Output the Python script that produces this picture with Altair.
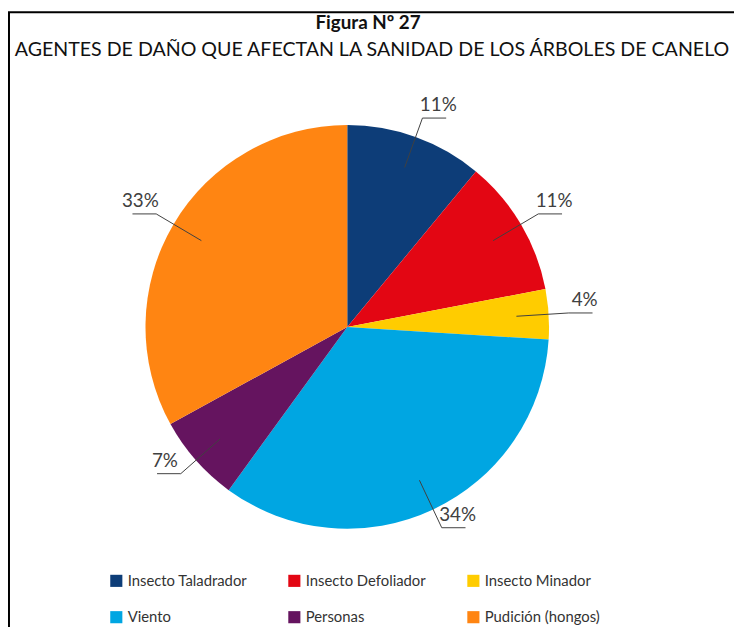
import altair as alt
import pandas as pd
import numpy as np

# ---- data ----
categories = ["Insecto Taladrador", "Insecto Defoliador", "Insecto Minador",
              "Viento", "Personas", "Pudición (hongos)"]
values = [11, 11, 4, 34, 7, 33]
colors = ["#0d3d78", "#e30613", "#ffcc00", "#00a6e2", "#65145f", "#ff8512"]
title_text = "Figura Nº 27"
subtitle_text = "AGENTES DE DAÑO QUE AFECTAN LA SANIDAD DE LOS ÁRBOLES DE CANELO"

# ---- layout ----
W, H = 734, 619
R = 204.0
CX, CY = 343.0, 319.0
FONT = "Lato"
TXT = "#404040"

xscale = alt.Scale(domain=[-CX / R, (W - CX) / R], nice=False, zero=False)
yscale = alt.Scale(domain=[-(H - CY) / R, CY / R], nice=False, zero=False)

pie_df = pd.DataFrame({"category": categories, "value": values,
                       "idx": list(range(len(values)))})
pie_df["x0"] = 0.0
pie_df["y0"] = 0.0

total = float(sum(values))
cum = np.cumsum([0.0] + values[:-1])
mid = (cum + np.array(values) / 2.0) / total * 2 * np.pi

rows = []
lab = []
for c, v, a in zip(categories, values, mid):
    s = 1.0 if np.sin(a) >= 0 else -1.0
    r1, r2 = 0.84, 1.10
    ax, ay = r1 * np.sin(a), r1 * np.cos(a)
    bx, by = r2 * np.sin(a), r2 * np.cos(a)
    cx, cy = bx + s * 24 / R, by
    rows += [dict(category=c, pt=0, x=ax, y=ay),
             dict(category=c, pt=1, x=bx, y=by),
             dict(category=c, pt=2, x=cx, y=cy)]
    lab.append(dict(category=c, label=f"{v}%", x=bx + s * 16 / R, y=by + 3 / R))
lines_df = pd.DataFrame(rows)
lab_df = pd.DataFrame(lab)

legend = alt.Legend(orient="none", legendX=102, legendY=568, direction="horizontal",
                    columns=3, title=None, symbolType="square", symbolSize=150,
                    symbolStrokeWidth=0, labelFont=FONT, labelFontSize=15,
                    labelColor="#333333", labelOffset=4, rowPadding=21,
                    columnPadding=40, padding=0)

pie = alt.Chart(pie_df).mark_arc(outerRadius=R).encode(
    x=alt.X("x0:Q", scale=xscale, axis=None),
    y=alt.Y("y0:Q", scale=yscale, axis=None),
    theta=alt.Theta("value:Q", stack=True),
    color=alt.Color("category:N", scale=alt.Scale(domain=categories, range=colors),
                    sort=categories, legend=legend),
    order=alt.Order("idx:Q"),
)

leaders = alt.Chart(lines_df).mark_line(color="#404040", strokeWidth=1).encode(
    x=alt.X("x:Q", scale=xscale, axis=None),
    y=alt.Y("y:Q", scale=yscale, axis=None),
    detail="category:N",
    order="pt:Q",
)

labels = alt.Chart(lab_df).mark_text(font=FONT, fontSize=19, color=TXT,
                                     baseline="bottom", align="center").encode(
    x=alt.X("x:Q", scale=xscale, axis=None),
    y=alt.Y("y:Q", scale=yscale, axis=None),
    text="label:N",
)

tdf = pd.DataFrame({"t": [title_text], "s": [subtitle_text]})
title = alt.Chart(tdf).mark_text(font=FONT, fontSize=19, fontWeight="bold",
                                 color="#111111", baseline="middle").encode(
    text="t:N", x=alt.value(364), y=alt.value(12))
subtitle = alt.Chart(tdf).mark_text(font=FONT, fontSize=19.8, color="#111111",
                                    baseline="middle").encode(
    text="s:N", x=alt.value(368), y=alt.value(39))

frame = alt.Chart(tdf).mark_rect(fill=None, stroke="#000000", strokeWidth=2).encode(
    x=alt.value(1), x2=alt.value(900), y=alt.value(1), y2=alt.value(900))

chart = alt.layer(frame, pie, leaders, labels, title, subtitle).properties(
    width=W, height=H, padding=0, autosize=alt.AutoSizeParams(type="none")
).configure_view(stroke=None)

chart.save("out.html", embed_options={"renderer": "svg", "actions": False})
